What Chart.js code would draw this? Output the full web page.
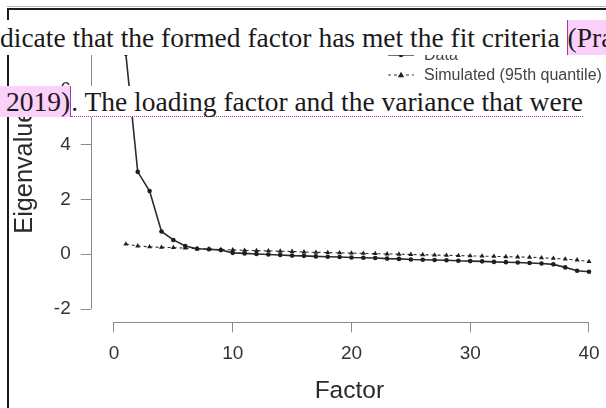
<!DOCTYPE html>
<html><head><meta charset="utf-8">
<script src="https://cdn.jsdelivr.net/npm/chart.js@4.4.1/dist/chart.umd.min.js"></script>
<style>
html,body{margin:0;padding:0;background:#fff;}
body{width:606px;height:408px;overflow:hidden;position:relative;}
#wrap{position:absolute;left:0;top:0;width:640px;height:408px;z-index:1;}
#frameTop2{position:absolute;left:7px;top:6px;width:640px;height:1px;background:#b5b5b5;z-index:2;}
#frameTop{position:absolute;left:7px;top:8px;width:640px;height:2px;background:#1c1c1c;z-index:2;}
#frameLeft{position:absolute;left:7px;top:8px;width:2px;height:420px;background:#1c1c1c;z-index:2;}
.lg{position:absolute;font:16px/18px "Liberation Sans",Arial,sans-serif;color:#444;white-space:nowrap;z-index:3;}
.lgm{position:absolute;z-index:3;}
.doc{position:absolute;left:0;font-family:"Liberation Serif","Times New Roman",serif;font-size:27.5px;color:#1a1a1a;white-space:nowrap;z-index:5;}
.doc span{display:inline-block;vertical-align:top;}
.hl{background:#fbd0fb;}
</style></head>
<body>
<div id="wrap"><canvas id="c" width="640" height="408"></canvas></div>
<div id="frameTop2"></div><div id="frameTop"></div><div id="frameLeft"></div>

<svg class="lgm" style="left:386px;top:46px" width="32" height="18"><line x1="2" y1="9" x2="28" y2="9" stroke="#333" stroke-width="1.4"/><circle cx="15" cy="9" r="2.3" fill="#222"/></svg>
<div class="lg" style="left:424px;top:46px">Data</div>
<svg class="lgm" style="left:386px;top:66px" width="32" height="18"><line x1="2" y1="9" x2="28" y2="9" stroke="#333" stroke-width="1.1" stroke-dasharray="3,3"/><path d="M15 5.8 L18.2 11.2 L11.8 11.2 Z" fill="#222"/></svg>
<div class="lg" style="left:424px;top:66px">Simulated (95th quantile)</div>

<div class="doc" style="top:20px;height:35px;line-height:35px;width:640px;background:#fff"><span style="height:35px">dicate that the formed factor has met the fit criteria&nbsp;</span><span class="hl" style="height:35px;border-left:1.5px solid #a23aa2">(Pra</span></div>
<div class="doc" style="top:86px;height:31px;line-height:31px"><span class="hl" style="height:31px;border-right:1.5px solid #a23aa2;padding-left:6px">2019)</span><span style="background:#fff;height:30px;border-bottom:1px dotted #a23aa2">. The loading factor and the variance that were</span></div>

<script>
const factors = [1,2,3,4,5,6,7,8,9,10,11,12,13,14,15,16,17,18,19,20,21,22,23,24,25,26,27,28,29,30,31,32,33,34,35,36,37,38,39,40];
const dataEigen = [7.3,3.0,2.3,0.83,0.52,0.3,0.2,0.18,0.15,0.05,0.03,0.01,-0.01,-0.03,-0.05,-0.06,-0.08,-0.09,-0.1,-0.12,-0.13,-0.14,-0.16,-0.17,-0.19,-0.2,-0.21,-0.22,-0.24,-0.25,-0.26,-0.28,-0.29,-0.3,-0.32,-0.34,-0.37,-0.48,-0.6,-0.64];
const simEigen = [0.37,0.3,0.27,0.25,0.24,0.22,0.2,0.19,0.17,0.16,0.14,0.13,0.12,0.11,0.1,0.08,0.07,0.06,0.05,0.04,0.03,0.02,0.01,0.0,-0.01,-0.02,-0.03,-0.04,-0.05,-0.06,-0.07,-0.08,-0.09,-0.1,-0.11,-0.13,-0.15,-0.18,-0.21,-0.27];
const xTickValues = [0,10,20,30,40];
const yTickValues = [-2,0,2,4,6,8];
const seriesNames = ['Data','Simulated (95th quantile)'];
const xTitle = 'Factor';
const yTitle = '\u00a0\u00a0Eigenvalues';

const FONT = '"Liberation Sans", Arial, sans-serif';

const axisLines = {
  id:'axisLines',
  afterDraw(chart){
    const {ctx, chartArea, scales:{x,y}} = chart;
    ctx.save();
    ctx.strokeStyle = '#8a8a8a';
    ctx.lineWidth = 1;
    ctx.beginPath();
    const xl = Math.round(chartArea.left) + 0.5;
    ctx.moveTo(xl, y.getPixelForValue(yTickValues[0]));
    ctx.lineTo(xl, y.getPixelForValue(yTickValues[yTickValues.length-1]));
    const yb = Math.round(chartArea.bottom) + 0.5;
    ctx.moveTo(x.getPixelForValue(xTickValues[0]), yb);
    ctx.lineTo(x.getPixelForValue(xTickValues[xTickValues.length-1]), yb);
    ctx.stroke();
    ctx.restore();
  }
};

new Chart(document.getElementById('c'), {
  type:'line',
  data:{
    datasets:[
      {label:seriesNames[0], data:factors.map((f,i)=>({x:f,y:dataEigen[i]})),
       borderColor:'#2b2b2b', backgroundColor:'#1e1e1e', borderWidth:1.6,
       pointStyle:'circle', pointRadius:2.3, pointBorderWidth:0, tension:0, fill:false},
      {label:seriesNames[1], data:factors.map((f,i)=>({x:f,y:simEigen[i]})),
       borderColor:'#333', backgroundColor:'#1e1e1e', borderWidth:1.1, borderDash:[3,3],
       pointStyle:'triangle', pointRadius:2.9, pointBorderWidth:0, tension:0, fill:false}
    ]
  },
  options:{
    responsive:false, animation:false, devicePixelRatio:1,
    layout:{padding:{left:0,right:32,top:7,bottom:0}},
    plugins:{legend:{display:false}, tooltip:{enabled:false}},
    scales:{
      x:{type:'linear', min:-1.96, max:41.6,
         afterBuildTicks:s=>{s.ticks = xTickValues.map(v=>({value:v}));},
         afterFit:s=>{s.height = 85.7;},
         grid:{display:true, drawOnChartArea:false, drawTicks:true, tickLength:10, color:'#8a8a8a', lineWidth:1},
         border:{display:false},
         ticks:{color:'#333', font:{family:FONT, size:19}, padding:10, maxRotation:0, autoSkip:false},
         title:{display:true, text:xTitle, color:'#2a2a2a', font:{family:FONT, size:24.5}, padding:{top:0,bottom:2}}
      },
      y:{type:'linear', min:-2.48, max:8.48,
         afterBuildTicks:s=>{s.ticks = yTickValues.map(v=>({value:v}));},
         afterFit:s=>{s.width = 90.7;},
         grid:{display:true, drawOnChartArea:false, drawTicks:true, tickLength:10, color:'#8a8a8a', lineWidth:1},
         border:{display:false},
         ticks:{color:'#333', font:{family:FONT, size:19}, padding:10, autoSkip:false},
         title:{display:true, text:yTitle, color:'#2a2a2a', font:{family:FONT, size:25.3}, padding:{top:10,bottom:0}}
      }
    }
  },
  plugins:[axisLines]
});
</script>
</body></html>
